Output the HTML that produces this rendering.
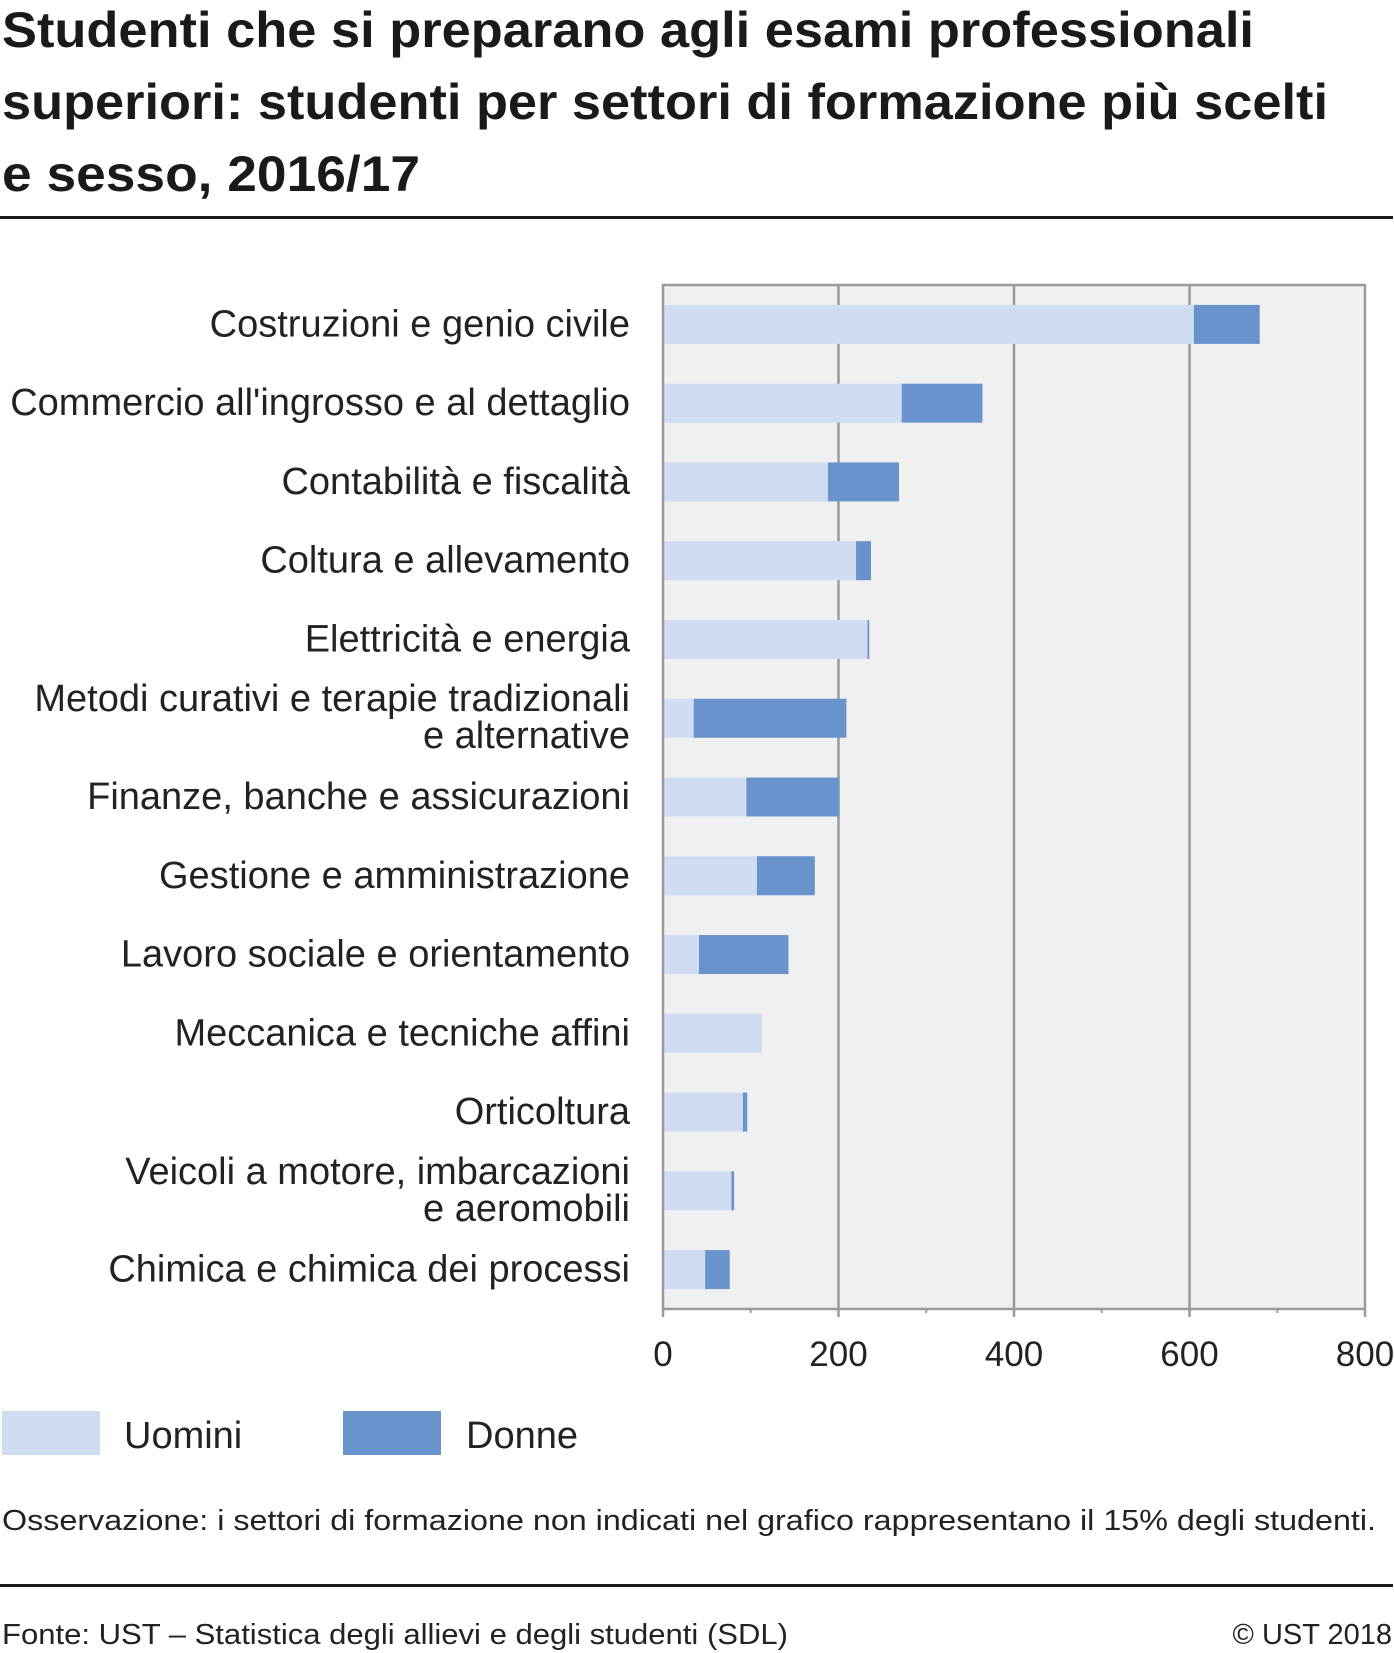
<!DOCTYPE html>
<html><head><meta charset="utf-8"><style>
html,body{margin:0;padding:0;background:#fff;}
svg{display:block;font-family:"Liberation Sans",sans-serif;}
</style></head><body>
<svg id="chart" width="1394" height="1653" viewBox="0 0 1394 1653" xmlns="http://www.w3.org/2000/svg">
<g font-weight="bold" font-size="50" fill="#1a1a1a">
<text x="2" y="47" textLength="1252" lengthAdjust="spacingAndGlyphs">Studenti che si preparano agli esami professionali</text>
<text x="2" y="119" textLength="1326" lengthAdjust="spacingAndGlyphs">superiori: studenti per settori di formazione più scelti</text>
<text x="2" y="191" textLength="418" lengthAdjust="spacingAndGlyphs">e sesso, 2016/17</text>
</g>
<rect x="0" y="216" width="1393" height="3" fill="#1a1a1a"/>
<g id="plot"></g>
<g>
<rect x="2" y="1411" width="98" height="44" fill="#cfdcf1"/>
<text x="124" y="1448" font-size="38" fill="#222">Uomini</text>
<rect x="343" y="1411" width="98" height="44" fill="#6893cc"/>
<text x="466" y="1448" font-size="38" fill="#222">Donne</text>
</g>
<text x="2" y="1530" font-size="29" fill="#222" textLength="1374" lengthAdjust="spacingAndGlyphs">Osservazione: i settori di formazione non indicati nel grafico rappresentano il 15% degli studenti.</text>
<rect x="0" y="1584" width="1393" height="3" fill="#1a1a1a"/>
<text x="2" y="1644" font-size="29" fill="#222" textLength="786" lengthAdjust="spacingAndGlyphs">Fonte: UST – Statistica degli allievi e degli studenti (SDL)</text>
<text x="1392" y="1644" font-size="29" fill="#222" text-anchor="end">© UST 2018</text>
</svg>
<script>
const categories = [
 ["Costruzioni e genio civile"],
 ["Commercio all'ingrosso e al dettaglio"],
 ["Contabilità e fiscalità"],
 ["Coltura e allevamento"],
 ["Elettricità e energia"],
 ["Metodi curativi e terapie tradizionali","e alternative"],
 ["Finanze, banche e assicurazioni"],
 ["Gestione e amministrazione"],
 ["Lavoro sociale e orientamento"],
 ["Meccanica e tecniche affini"],
 ["Orticoltura"],
 ["Veicoli a motore, imbarcazioni","e aeromobili"],
 ["Chimica e chimica dei processi"]
];
const uomini = [605, 272, 188, 220, 233, 35, 95, 107, 41, 113, 91, 78, 48];
const donne  = [75, 92, 81, 17, 2, 174, 106, 66, 102, 0, 5, 3, 28];
const xTicks = [0, 200, 400, 600, 800];

const NS = "http://www.w3.org/2000/svg";
const plot = document.getElementById('plot');
const L = 663, R = 1365, T = 285, B = 1309, XMAX = 800;
const xs = v => L + v / XMAX * (R - L);
const band = (B - T) / categories.length;
const yc = i => T + band * (i + 0.5);
const BH = 39;
function mk(tag, attrs) { const e = document.createElementNS(NS, tag); for (const k in attrs) e.setAttribute(k, attrs[k]); plot.appendChild(e); return e; }

const bg = mk('rect', {x: L, y: T, width: R - L, height: B - T, fill: '#f0f0f0'});



xTicks.forEach(t => {
  const x = xs(t);
  if (t > 0 && t < XMAX) {
    const g = mk('line', {x1: x, x2: x, y1: T, y2: B, stroke: '#9a9a9a', 'stroke-width': 2.5});
    
    
  }
  const tk = mk('line', {x1: x, x2: x, y1: B, y2: B + 8, stroke: '#9a9a9a', 'stroke-width': 2.5});
  
  
  const lb = mk('text', {x: x, y: B + 57, 'font-size': 35, fill: '#222', 'text-anchor': 'middle'});
  lb.textContent = t;
  
  
});
for (let i = 0; i < xTicks.length - 1; i++) {
  const x = xs((xTicks[i] + xTicks[i + 1]) / 2);
  const m = mk('line', {x1: x, x2: x, y1: B, y2: B + 4, stroke: '#9a9a9a', 'stroke-width': 2});
  
  
}

categories.forEach((c, i) => {
  const y = yc(i);
  const b1 = mk('rect', {x: xs(0), y: y - BH / 2, width: xs(uomini[i]) - xs(0), height: BH, fill: '#cfdcf1'});
  
  
  if (donne[i] > 0) {
    const b2 = mk('rect', {x: xs(uomini[i]), y: y - BH / 2, width: xs(uomini[i] + donne[i]) - xs(uomini[i]), height: BH, fill: '#6893cc'});
    
    
  }
  const lb = mk('text', {x: 630, 'font-size': 38, fill: '#222', 'text-anchor': 'end'});
  
  
  if (c.length === 1) {
    lb.setAttribute('y', y + 12);
    lb.textContent = c[0];
  } else {
    const s1 = document.createElementNS(NS, 'tspan');
    s1.setAttribute('x', 630); s1.setAttribute('y', y - 7); s1.textContent = c[0];
    const s2 = document.createElementNS(NS, 'tspan');
    s2.setAttribute('x', 630); s2.setAttribute('y', y + 30); s2.textContent = c[1];
    lb.appendChild(s1); lb.appendChild(s2);
  }
});

const fr = mk('rect', {x: L, y: T, width: R - L, height: B - T, fill: 'none', stroke: '#9a9a9a', 'stroke-width': 2.5});


</script>
</body></html>
